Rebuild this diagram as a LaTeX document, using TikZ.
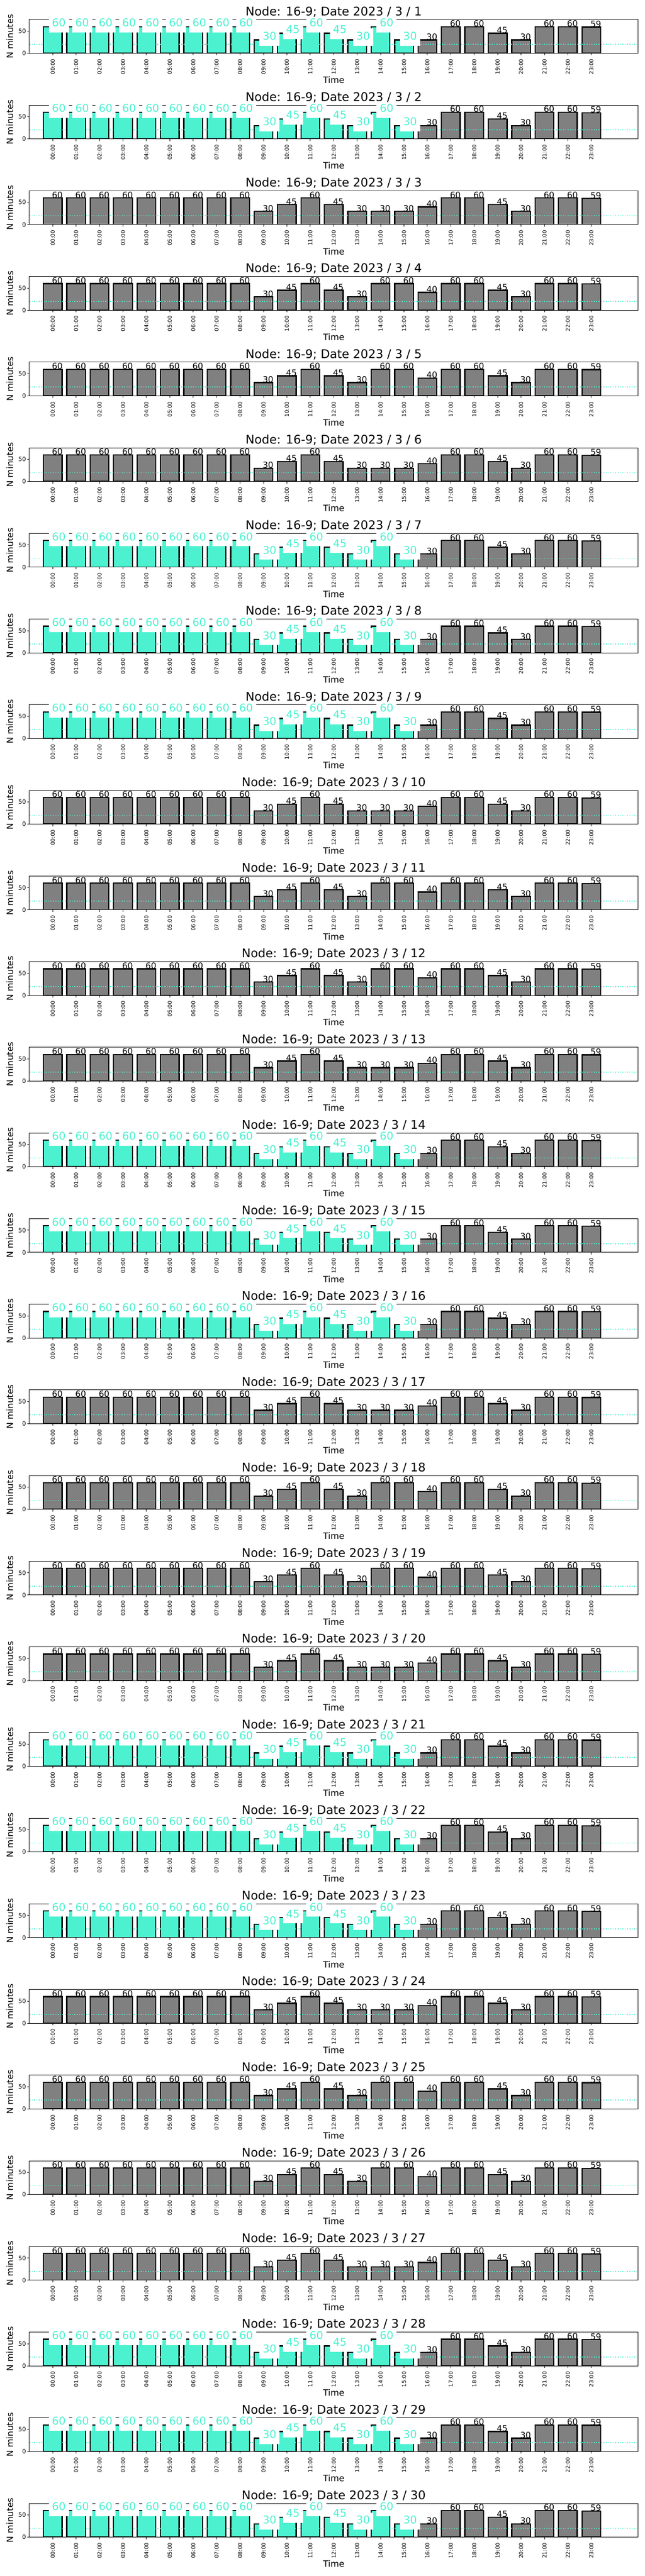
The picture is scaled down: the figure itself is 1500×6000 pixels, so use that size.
\documentclass[tikz,border=0pt]{standalone}
\usepackage{fontspec}
\setmainfont{DejaVu Sans}
\definecolor{tealc}{RGB}{76,242,208}
\definecolor{bargray}{RGB}{128,128,128}
\def\dataA{{60,60,60,60,60,60,60,60,60,30,45,60,45,30,60,30,30,60,60,45,30,60,60,59}}
\def\dataB{{60,60,60,60,60,60,60,60,60,30,45,60,45,30,30,30,40,60,60,45,30,60,60,59}}
\def\dataC{{60,60,60,60,60,60,60,60,60,30,45,60,45,30,60,60,40,60,60,45,30,60,60,59}}
\tikzset{
 barbox/.style={draw=black, line width=2pt},
 spine/.style={line width=0.8pt},
 tickmark/.style={line width=0.8pt},
 xtl/.style={rotate=90, anchor=east, inner sep=0pt, font=\fontsize{9}{10}\selectfont},
 ytl/.style={anchor=east, inner sep=0pt, font=\fontsize{10}{12}\selectfont},
 axlab/.style={inner sep=0pt, font=\fontsize{14.6}{17}\selectfont},
 ttl/.style={anchor=base, inner sep=0pt, font=\fontsize{20}{24}\selectfont},
 glab/.style={anchor=base west, inner sep=0pt, font=\fontsize{14}{17}\selectfont},
 tlab/.style={anchor=base west, inner sep=5.4pt, fill=white, text=tealc, font=\fontsize{18}{22}\selectfont, text height=13.7pt, text depth=4.3pt},
 thr/.style={tealc, line width=1.5pt, dash pattern=on 1.5pt off 2.475pt},
}
\begin{document}
\begin{tikzpicture}[x=0.72pt,y=-0.72pt]
\useasboundingbox (0,0) rectangle (1500,6000);
\fill[white] (0,0) rectangle (1500,6000);
\foreach \dd in {1,...,30}{
 \pgfmathsetmacro\pT{45.3+199.5*(\dd-1)}
 \pgfmathsetmacro\pB{\pT+78.7}
 \pgfmathtruncatemacro\rr{mod(\dd,7)}
 \def\hl{0}
 \ifnum\rr<3 \let\data\dataA \def\hl{1}\fi
 \ifnum\rr=3 \let\data\dataB\fi
 \ifnum\rr=6 \let\data\dataB\fi
 \ifnum\rr=4 \let\data\dataC\fi
 \ifnum\rr=5 \let\data\dataC\fi
 \begin{scope}
  \clip (68.3,\pT) rectangle (1485.2,\pB);
  \foreach \hh in {0,...,23}{
    \pgfmathtruncatemacro\bv{\data[\hh]}
    \pgfmathsetmacro\bc{122.7+54.5*\hh}
    \pgfmathsetmacro\btp{\pB-1.0333*\bv}
    \def\fc{bargray}
    \ifnum\hl=1 \ifnum\hh<16 \def\fc{tealc}\fi\fi
    \filldraw[barbox, fill=\fc] (\bc-21.8,\pB) rectangle (\bc+21.8,\btp);
  }
 \end{scope}
 \draw[thr] (68.3,\pB-20.67) -- (1485.2,\pB-20.67);
 \draw[spine] (68.3,\pT) rectangle (1485.2,\pB);
 \draw[tickmark] (63.44,\pB) -- (68.3,\pB) (63.44,\pB-51.67) -- (68.3,\pB-51.67);
 \node[ytl] (ya\dd) at (60.8,\pB) {0};
 \node[ytl] (yb\dd) at (60.8,\pB-51.67) {50};
 \node[axlab, rotate=90, anchor=base] (yl\dd) at (30.5,\pT+39.35) {N minutes};
 \node[axlab, anchor=base] (xl\dd) at (776.7,\pB+70) {Time};
 \foreach \hh in {0,...,23}{
   \pgfmathsetmacro\bc{122.7+54.5*\hh}
   \draw[tickmark] (\bc,\pB) -- (\bc,\pB+4.86);
   \node[xtl] (xt\dd-\hh) at (\bc,\pB+13) {\ifnum\hh<10 0\fi\hh:00};
 }
 \foreach \hh in {0,...,23}{
   \pgfmathtruncatemacro\bv{\data[\hh]}
   \pgfmathsetmacro\bc{122.7+54.5*\hh}
   \pgfmathsetmacro\btp{\pB-1.0333*\bv}
   \def\isbox{0}
   \ifnum\hl=1 \ifnum\hh<16 \def\isbox{1}\fi\fi
   \ifnum\isbox=1
     \node[tlab] (v\dd-\hh) at (\bc-9.5,\btp) {\bv};
   \else
     \node[glab] (v\dd-\hh) at (\bc-2,\btp) {\bv};
   \fi
 }
 \node[ttl] (t\dd) at (776.7,\pT-9.3) {Node: 16-9; Date 2023 / 3 / \dd};
}
\end{tikzpicture}
\end{document}
